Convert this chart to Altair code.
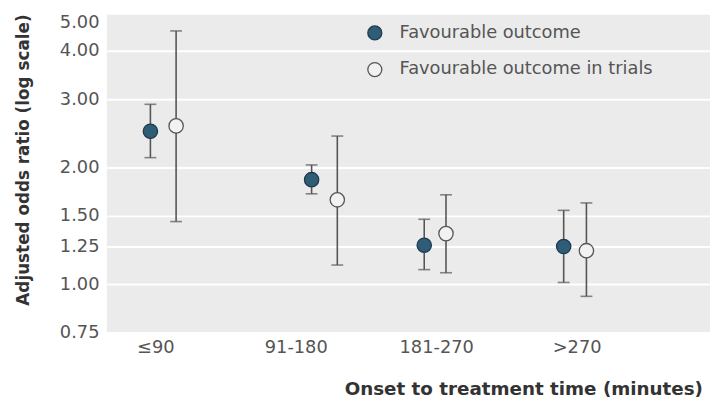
import altair as alt
import pandas as pd

categories = ["≤90", "91-180", "181-270", ">270"]
series = ["Favourable outcome", "Favourable outcome in trials"]

fav_or = [2.48, 1.86, 1.26, 1.25]
fav_lo = [2.12, 1.71, 1.09, 1.01]
fav_hi = [2.91, 2.03, 1.47, 1.55]

trial_or = [2.56, 1.65, 1.35, 1.22]
trial_lo = [1.45, 1.12, 1.07, 0.93]
trial_hi = [4.50, 2.41, 1.70, 1.62]

# horizontal placement of each estimate, in category units (0 = first category)
fav_pos = [-0.035, 1.113, 1.915, 2.908]
trial_pos = [0.148, 1.296, 2.07, 3.07]

y_ticks = [0.75, 1.0, 1.25, 1.5, 2.0, 3.0, 4.0, 5.0]

rows = []
for i in range(len(categories)):
    rows.append(dict(series=series[0], x=fav_pos[i], est=fav_or[i], lo=fav_lo[i], hi=fav_hi[i]))
    rows.append(dict(series=series[1], x=trial_pos[i], est=trial_or[i], lo=trial_lo[i], hi=trial_hi[i]))
df = pd.DataFrame(rows)
caps = pd.concat([
    df[["series", "x"]].assign(v=df["lo"]),
    df[["series", "x"]].assign(v=df["hi"]),
])

label_expr = "[" + ",".join("'" + c + "'" for c in categories) + "][datum.value]"

x_enc = alt.X(
    "x:Q",
    scale=alt.Scale(domain=[-0.345, 3.95], nice=False, zero=False),
    axis=alt.Axis(
        values=[0, 1, 2, 3], labelExpr=label_expr, grid=False, domain=False, ticks=False,
        labelFontSize=18, labelColor="#555555", labelPadding=6, labelFont="DejaVu Sans",
        title="Onset to treatment time (minutes)", titleFontSize=18.5, titleFont="DejaVu Sans",
        titleFontWeight="bold", titleColor="#333333", titleX=240, titleY=63,
        titleAlign="left", titleBaseline="alphabetic",
    ),
)
y_scale = alt.Scale(type="log", domain=[0.75, 5], nice=False)

rules = alt.Chart(df).mark_rule(color="#555555", strokeWidth=1.6).encode(
    x=x_enc,
    y=alt.Y("lo:Q", scale=y_scale),
    y2="hi:Q",
)
cap_marks = alt.Chart(caps).mark_tick(orient="horizontal", size=12, thickness=1.6, color="#555555").encode(
    x=alt.X("x:Q"),
    y=alt.Y("v:Q", scale=y_scale),
)
points = alt.Chart(df).mark_point(filled=True, size=210, strokeWidth=1.3, opacity=1).encode(
    x=alt.X("x:Q"),
    y=alt.Y(
        "est:Q", scale=y_scale,
        axis=alt.Axis(
            values=y_ticks, format=".2f", grid=True, gridColor="white", gridWidth=2,
            domain=False, ticks=False, labelFontSize=18, labelColor="#555555",
            labelPadding=8, labelFont="DejaVu Sans", labelFlush=False, labelBound=False,
            labelOverlap=False,
            labelBaseline={"condition": {"test": "datum.value >= 5", "value": "top"}, "value": "middle"},
            title="Adjusted odds ratio (log scale)", titleFontSize=17,
            titleFont="DejaVu Sans", titleFontWeight="bold", titleColor="#333333",
            titleX=-84, titleY=148, titleAngle=270, titleAlign="center", titleBaseline="middle",
        ),
    ),
    fill=alt.Fill(
        "series:N",
        scale=alt.Scale(domain=series, range=["#2f5d78", "#f2f2f2"]),
        legend=alt.Legend(
            title=None, orient="none", legendX=262, legendY=11, symbolSize=200,
            symbolStrokeWidth=1.3, labelFontSize=18, labelColor="#555555",
            labelFont="DejaVu Sans", rowPadding=17, labelOffset=16, labelLimit=0,
        ),
    ),
    stroke=alt.Stroke(
        "series:N",
        scale=alt.Scale(domain=series, range=["#1e3a4c", "#555555"]),
    ),
)

chart = alt.layer(rules, cap_marks, points).properties(
    width=610, height=323,
    autosize=alt.AutoSizeParams(type="none"),
    padding={"left": 100, "top": 3, "right": 0, "bottom": 70},
).configure_view(fill="#ebebeb", stroke=None)

chart.save("out.html", embed_options={"renderer": "svg", "actions": False})
